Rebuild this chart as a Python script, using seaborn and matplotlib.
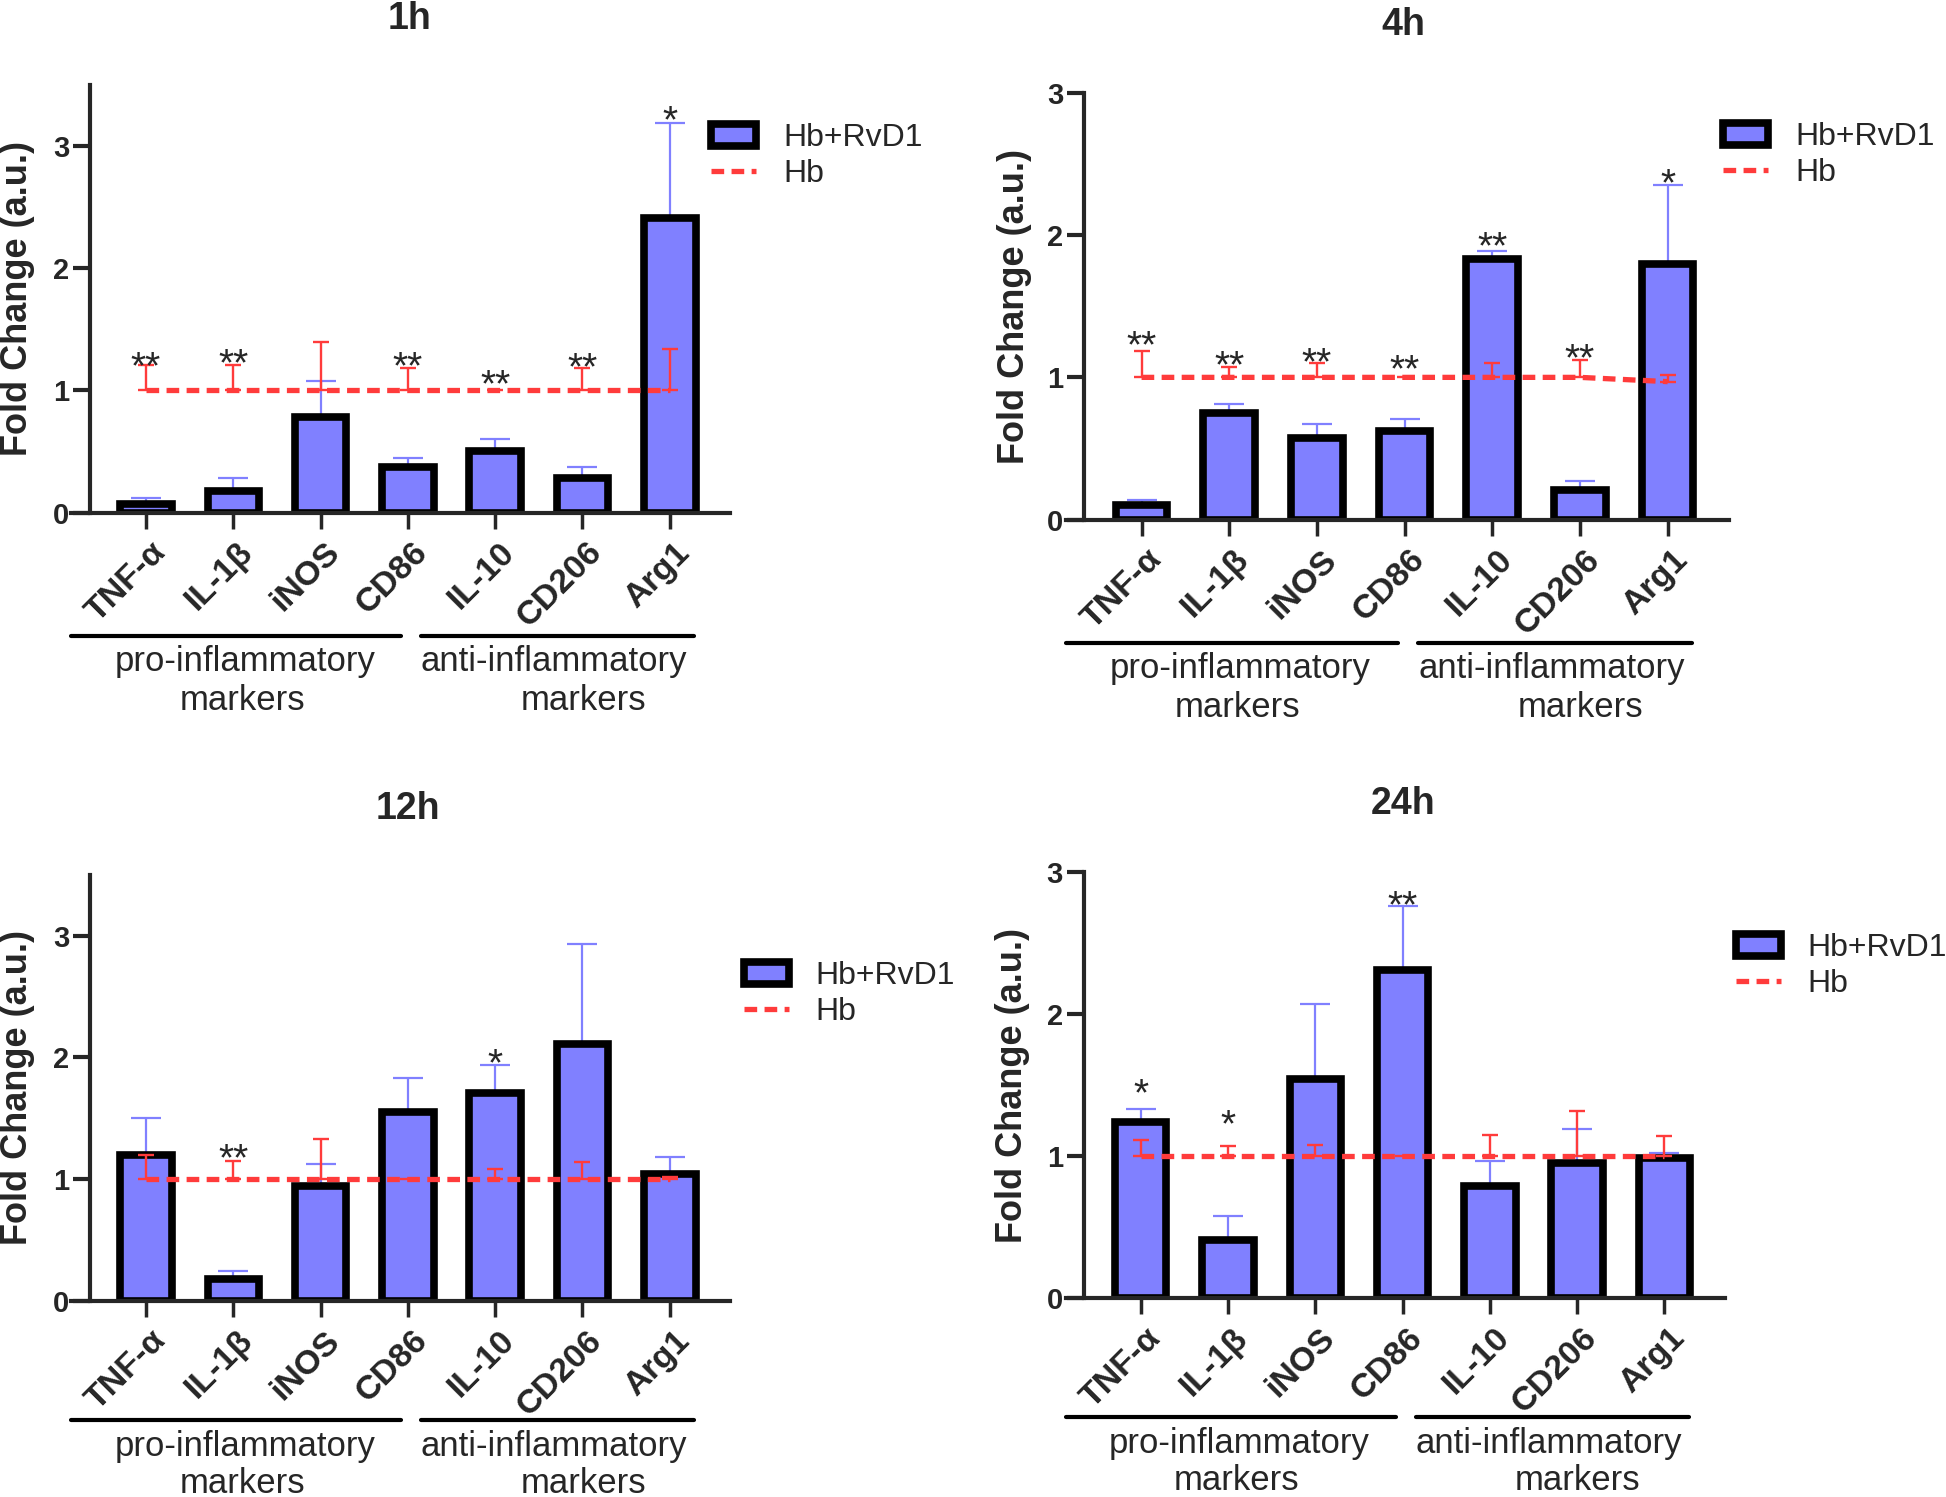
import numpy as np
import matplotlib
matplotlib.use('Agg')
import matplotlib.pyplot as plt
import seaborn as sns
from matplotlib.patches import Patch
from matplotlib.lines import Line2D
from matplotlib.transforms import ScaledTranslation

nan = np.nan

markers = ['TNF-α', 'IL-1β', 'iNOS', 'CD86', 'IL-10', 'CD206', 'Arg1']
titles = ['1h', '4h', '12h', '24h']

# Hb+RvD1 bars (mean, upper SD)
rvd1_1h = [0.07, 0.18, 0.785, 0.37, 0.50, 0.28, 2.41]
rvd1_1h_sd = [0.05, 0.10, 0.295, 0.08, 0.10, 0.09, 0.78]
rvd1_4h = [0.10, 0.75, 0.575, 0.625, 1.83, 0.21, 1.80]
rvd1_4h_sd = [0.04, 0.06, 0.095, 0.085, 0.06, 0.06, 0.55]
rvd1_12h = [1.20, 0.18, 0.94, 1.55, 1.71, 2.11, 1.04]
rvd1_12h_sd = [0.30, 0.06, 0.18, 0.28, 0.23, 0.82, 0.14]
rvd1_24h = [1.24, 0.41, 1.545, 2.31, 0.79, 0.95, 0.99]
rvd1_24h_sd = [0.09, 0.17, 0.525, 0.45, 0.175, 0.24, 0.03]

# Hb reference line (mean, upper SD)
hb_1h = [1.0, 1.0, 1.0, 1.0, 1.0, 1.0, 1.0]
hb_1h_sd = [0.21, 0.21, 0.40, 0.185, nan, 0.18, 0.34]
hb_4h = [1.0, 1.0, 1.0, 1.0, 1.0, 1.0, 0.97]
hb_4h_sd = [0.185, 0.075, 0.10, nan, 0.10, 0.12, 0.05]
hb_12h = [1.0, 1.0, 1.0, 1.0, 1.0, 1.0, 1.0]
hb_12h_sd = [0.20, 0.15, 0.33, nan, 0.08, 0.14, 0.02]
hb_24h = [1.0, 1.0, 1.0, 1.0, 1.0, 1.0, 1.0]
hb_24h_sd = [0.115, 0.07, 0.075, nan, 0.15, 0.32, 0.145]

# significance marks and the height of their lower edge
stars_1h = ['**', '**', '', '**', '**', '**', '*']
star_y_1h = [1.24, 1.26, nan, 1.24, 1.09, 1.23, 3.25]
stars_4h = ['**', '**', '**', '**', '**', '**', '*']
star_y_4h = [1.26, 1.12, 1.14, 1.09, 1.96, 1.17, 2.40]
stars_12h = ['', '**', '', '', '*', '', '']
star_y_12h = [nan, 1.21, nan, nan, 1.99, nan, nan]
stars_24h = ['*', '*', '', '**', '', '', '']
star_y_24h = [1.48, 1.26, nan, 2.80, nan, nan, nan]

groups = ['pro-inflammatory', 'anti-inflammatory']

panels = [
    (rvd1_1h, rvd1_1h_sd, hb_1h, hb_1h_sd, stars_1h, star_y_1h),
    (rvd1_4h, rvd1_4h_sd, hb_4h, hb_4h_sd, stars_4h, star_y_4h),
    (rvd1_12h, rvd1_12h_sd, hb_12h, hb_12h_sd, stars_12h, star_y_12h),
    (rvd1_24h, rvd1_24h_sd, hb_24h, hb_24h_sd, stars_24h, star_y_24h),
]

# layout, in pixels of the 1946x1497 output
W, H = 1946, 1497
axes_px = [(71.4, 730, 85, 512.5), (1066, 1729, 92.9, 519.6),
           (71.4, 730, 874.7, 1300.7), (1066, 1724.6, 872.3, 1298)]
xlims = [(-0.855, 6.69), (-0.862, 6.70), (-0.855, 6.69), (-0.856, 6.69)]
spine_x = [-0.641, -0.657, -0.641, -0.654]
ymaxes = [3.5, 3, 3.5, 3]
title_px = [(410, 19), (1403, 25), (408, 809), (1403, 804)]
legend_px = [(711, 123), (1723, 122), (744, 961), (1736, 933)]
ylabel_px = [35.5, 1031.5, 35.5, 1030]
group_off = [(123, 149, 188), (123, 149, 188), (119, 146, 183), (119, 146, 183)]

BAR_FILL = '#8080ff'
ERR_BLUE = '#8080ff'
HB_RED = '#ff3b3b'
HB_DASH = (0, (2.4, 1.4))

sns.set_style('ticks')
plt.rcParams['font.family'] = ['Liberation Sans', 'DejaVu Sans']

fig = plt.figure(figsize=(W / 100, H / 100), dpi=100)
positions = np.arange(len(markers))

for k, (mean, sd, hb, hb_sd, stars, star_y) in enumerate(panels):
    x0, x1, yt, y0 = axes_px[k]
    ax = fig.add_axes([x0 / W, 1 - y0 / H, (x1 - x0) / W, (y0 - yt) / H])

    sns.barplot(x=positions, y=mean, color=BAR_FILL, saturation=1, width=0.59,
                edgecolor='black', linewidth=5.5, errorbar=None, ax=ax, zorder=2)
    ax.errorbar(positions, mean, yerr=[np.zeros(len(mean)), sd], fmt='none',
                ecolor=ERR_BLUE, elinewidth=1.6, capsize=10.5, capthick=1.6, zorder=1.5)

    sns.lineplot(x=positions, y=hb, ax=ax, color=HB_RED, linewidth=3.8,
                 linestyle=HB_DASH, errorbar=None, zorder=3)
    ax.errorbar(positions, hb, yerr=[np.zeros(len(hb)), hb_sd], fmt='none',
                ecolor=HB_RED, elinewidth=1.7, capsize=6, capthick=1.7, zorder=3.5)

    for i, (s, y) in enumerate(zip(stars, star_y)):
        if s:
            ax.annotate(s, (i, y), xytext=(0, -12.3), textcoords='offset points',
                        ha='center', va='baseline', fontsize=28, zorder=4)

    # axes styling
    ax.spines[['top', 'right']].set_visible(False)
    ax.spines['left'].set_position(('data', spine_x[k]))
    ax.spines['left'].set_linewidth(3)
    ax.spines['bottom'].set_linewidth(3)
    ax.set_yticks([0, 1, 2, 3])
    ax.tick_params(axis='y', length=12, width=3, pad=3, labelsize=21)
    for lbl in ax.get_yticklabels():
        lbl.set_fontweight('bold')
    ax.tick_params(axis='x', length=11.5, width=2.5, pad=6, labelsize=24.5)
    ax.set_xticks(positions, markers, rotation=45, ha='right', va='top',
                  rotation_mode='anchor', fontweight='bold')
    shift = ScaledTranslation(3 / 72, 0, fig.dpi_scale_trans)
    for lbl in ax.get_xticklabels():
        lbl.set_transform(lbl.get_transform() + shift)
    ax.set_xlabel('')
    ax.set_ylabel('Fold Change (a.u.)', fontsize=26, fontweight='bold')
    ax.yaxis.set_label_coords((ylabel_px[k] - x0) / (x1 - x0), 0.5)

    # group brackets under the tick labels
    base = ax.get_xaxis_transform()
    line_off, t1_off, t2_off = group_off[k]

    def below(px):
        return base + ScaledTranslation(0, -px / 100, fig.dpi_scale_trans)

    ax.plot([-0.86, 2.92], [0, 0], transform=below(line_off), color='black', lw=3, clip_on=False)
    ax.plot([3.15, 6.28], [0, 0], transform=below(line_off), color='black', lw=3, clip_on=False)
    ax.text(1.13, 0, groups[0], transform=below(t1_off), ha='center', va='center', fontsize=25)
    ax.text(1.10, 0, 'markers', transform=below(t2_off), ha='center', va='center', fontsize=25)
    ax.text(4.675, 0, groups[1], transform=below(t1_off), ha='center', va='center', fontsize=25)
    ax.text(5.01, 0, 'markers', transform=below(t2_off), ha='center', va='center', fontsize=25)

    ax.set_xlim(*xlims[k])
    ax.set_ylim(0, ymaxes[k])

    handles = [Patch(facecolor=BAR_FILL, edgecolor='black', linewidth=5.5, label='Hb+RvD1'),
               Line2D([], [], color=HB_RED, lw=3.8, linestyle=HB_DASH, label='Hb')]
    lx, ly = legend_px[k]
    ax.legend(handles=handles, loc='upper left', bbox_to_anchor=(lx / W, 1 - ly / H),
              bbox_transform=fig.transFigure, frameon=False, fontsize=23,
              handlelength=1.4, handleheight=0.7, handletextpad=0.85,
              labelspacing=0.2, borderpad=0, borderaxespad=0)

    tx, ty = title_px[k]
    fig.text(tx / W, 1 - ty / H, titles[k], ha='center', va='center',
             fontsize=27, fontweight='bold')

fig.savefig('out.png', dpi=100)
